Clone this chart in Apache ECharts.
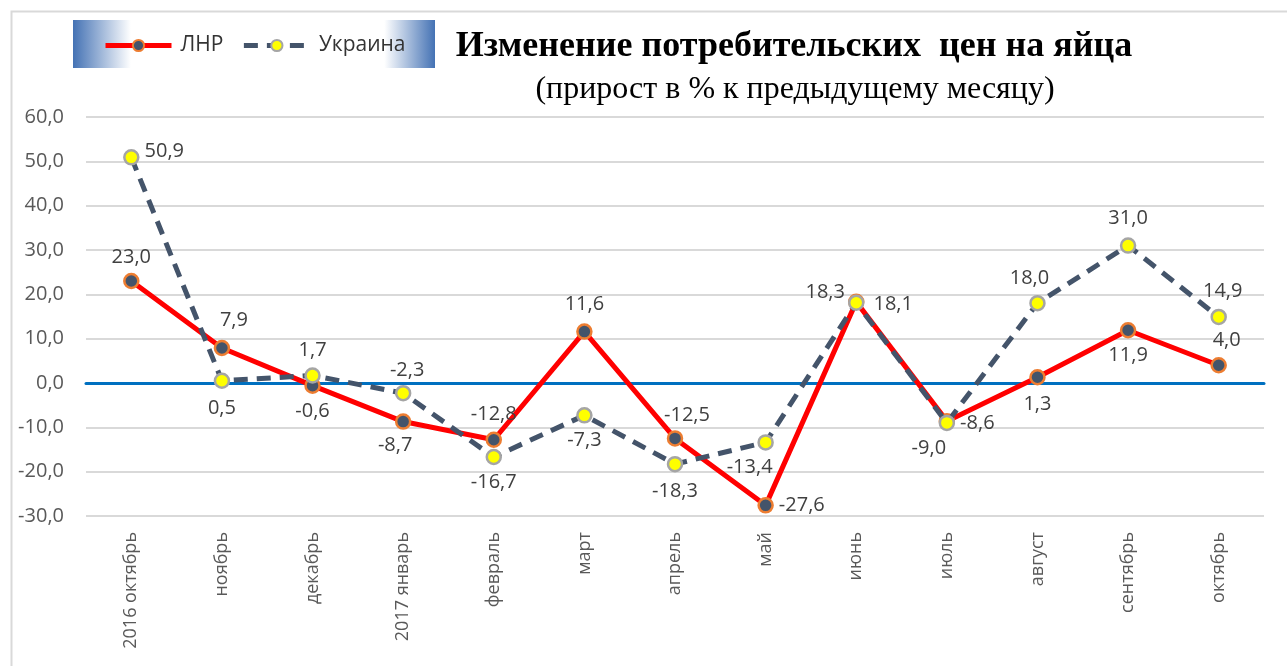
<!DOCTYPE html>
<html>
<head>
<meta charset="utf-8">
<script src="https://cdn.jsdelivr.net/npm/echarts@6/dist/echarts.min.js"></script>
<style>html,body{margin:0;padding:0;background:#fff;}#c{width:1287px;height:666px;}</style>
</head>
<body>
<div id="c"></div>
<script>
var categories = ['2016 октябрь','ноябрь','декабрь','2017 январь','февраль','март','апрель','май','июнь','июль','август','сентябрь','октябрь'];
var lnr = [23.0, 7.9, -0.6, -8.7, -12.8, 11.6, -12.5, -27.6, 18.3, -8.6, 1.3, 11.9, 4.0];
var ukraine = [50.9, 0.5, 1.7, -2.3, -16.7, -7.3, -18.3, -13.4, 18.1, -9.0, 18.0, 31.0, 14.9];
var yTicks = {min: -30, max: 60, interval: 10};

var lnrLabelPos = [['top',[0,0]],['top',[12,-4]],['bottom',[0,2]],['bottom',[-8,0]],['top',[0,-2]],['top',[0,-4]],['top',[12,0]],['right',[0,0]],['left',[2,-10]],['right',[0,2]],['bottom',[0,4]],['bottom',[0,2]],['top',[8,-2]]];
var ukrLabelPos = [['right',[0,-6]],['bottom',[0,4]],['top',[0,-2]],['top',[4,0]],['bottom',[0,2]],['bottom',[0,2]],['bottom',[0,4]],['bottom',[-16,2]],['right',[4,2]],['bottom',[-18,2]],['top',[-8,-2]],['top',[0,-4]],['top',[4,-2]]];

function fmt(v){ return v.toFixed(1).replace('.', ','); }
function build(vals, pos){
  return vals.map(function(v,i){
    return {value: v, label: {position: pos[i][0], offset: pos[i][1]}};
  });
}
var FONT = 'Open Sans';
var chart = echarts.init(document.getElementById('c'));
chart.setOption({
  animation: false,
  backgroundColor: '#fff',
  graphic: [
    {type:'rect', left: 9, top: 9, shape:{width:1300, height:700}, style:{fill:'none', stroke:'#d9d9d9', lineWidth:2}, z:-10, silent:true},
    {type:'rect', left: 73, top: 20, shape:{width:362, height:48},
     style:{fill: new echarts.graphic.LinearGradient(0,0,1,0,[
       {offset:0, color:'#4472b4'},{offset:0.16, color:'#ffffff'},{offset:0.86, color:'#ffffff'},{offset:1, color:'#4472b4'}])},
     z:-5, silent:true}
  ],
  title: [
    {text:'Изменение потребительских  цен на яйца', left: 789, top: 24, textAlign:'center',
     textStyle:{fontFamily:'Liberation Serif', fontWeight:'bold', fontSize:36, color:'#000'}},
    {text:'(прирост в % к предыдущему месяцу)', left: 790, top: 69, textAlign:'center',
     textStyle:{fontFamily:'Liberation Serif', fontWeight:'normal', fontSize:32, color:'#000'}}
  ],
  legend: {
    left: 98, top: 30, itemWidth: 66, itemHeight: 14, itemGap: 18,
    lineStyle:{width:5},
    textStyle:{fontFamily: FONT, fontSize: 21, color:'#333333', padding:[0,0,0,4]},
    data: ['ЛНР','Украина']
  },
  grid: {left: 86, right: 23, top: 117, bottom: 150, containLabel: false},
  xAxis: [
    {type:'category', data: categories, boundaryGap: true,
     axisLine:{show:false, onZero:false}, axisTick:{show:false},
     axisLabel:{rotate: 90, fontFamily: FONT, fontSize: 18, color:'#595959', margin: 16, interval: 0}},
    {type:'category', data: categories, position:'bottom', boundaryGap: true,
     axisLine:{show:true, onZero:true, lineStyle:{color:'#0070c0', width:3}}, axisTick:{show:false}, axisLabel:{show:false}}
  ],
  yAxis: {type:'value', min: yTicks.min, max: yTicks.max, interval: yTicks.interval,
    axisLine:{show:false}, axisTick:{show:false},
    axisLabel:{fontFamily: FONT, fontSize: 20, color:'#595959', margin: 22, formatter: function(v){return fmt(v);}},
    splitLine:{lineStyle:{color:'#d9d9d9', width:2}}},
  series: [
    {name:'ЛНР', type:'line', data: build(lnr, lnrLabelPos), z: 3,
     lineStyle:{color:'#ff0000', width:5},
     itemStyle:{color:'#44546a', borderColor:'#ed7d31', borderWidth:2.5},
     symbol:'circle', symbolSize: 14, showAllSymbol: true,
     label:{show:true, fontFamily: FONT, fontSize: 20, color:'#404040', formatter: function(p){return fmt(p.value);}}},
    {name:'Украина', type:'line', data: build(ukraine, ukrLabelPos), z: 4,
     lineStyle:{color:'#44546a', width:5, type:[14,9]},
     itemStyle:{color:'#ffff00', borderColor:'#a5a5a5', borderWidth:2.5},
     symbol:'circle', symbolSize: 14, showAllSymbol: true,
     label:{show:true, fontFamily: FONT, fontSize: 20, color:'#404040', formatter: function(p){return fmt(p.value);}}}
  ]
});
</script>
</body>
</html>
